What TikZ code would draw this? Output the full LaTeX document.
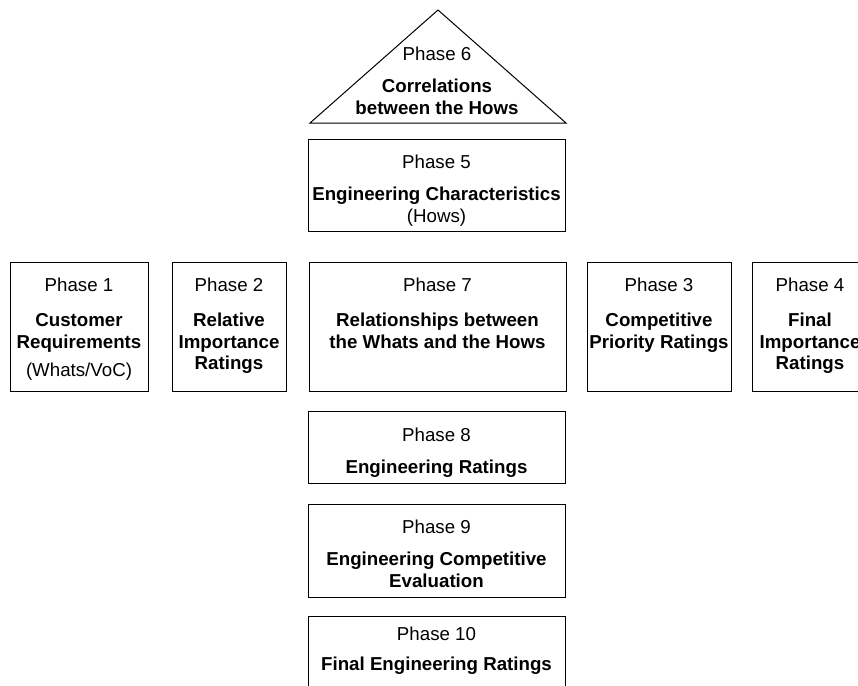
\documentclass[tikz,border=0pt]{standalone}
\usepackage{fontspec}
\setmainfont{Liberation Sans}
\begin{document}
\begin{tikzpicture}[x=1pt,y=-1pt,
  box/.style={draw=black, line width=1pt, inner sep=0pt, fill=none},
  lbl/.style={anchor=north, inner sep=0pt, align=center, font=\fontsize{18.7}{21.5}\selectfont}]
\clip (0,0) rectangle (858,685);
\fill[white] (0,0) rectangle (858,685);
% triangle (Phase 6)
\coordinate (apex) at (438,10);
\coordinate (tl) at (310,123);
\coordinate (tr) at (566,123);
\draw[line width=1pt, line join=miter] (tl) -- (apex) -- (tr) -- cycle;
% boxes
\node[box, minimum width=138pt, minimum height=129pt] (b1) at (79,326.5) {};
\node[box, minimum width=114pt, minimum height=129pt] (b2) at (229,326.5) {};
\node[box, minimum width=257pt, minimum height=129pt] (b7) at (437.5,326.5) {};
\node[box, minimum width=144pt, minimum height=129pt] (b3) at (659,326.5) {};
\node[box, minimum width=116pt, minimum height=129pt] (b4) at (810,326.5) {};
\node[box, minimum width=257pt, minimum height=92pt] (b5) at (436.5,185) {};
\node[box, minimum width=257pt, minimum height=72pt] (b8) at (436.5,447) {};
\node[box, minimum width=257pt, minimum height=93pt] (b9) at (436.5,550.5) {};
\node[box, minimum width=257pt, minimum height=104pt] (b10) at (436.5,668) {};
% labels
\node[lbl] (t6) at (437,47) {Phase 6\\[10.5pt]\textbf{Correlations}\\\textbf{between the Hows}};
\node[lbl] (t5) at (436.5,155) {Phase 5\\[10.5pt]\textbf{Engineering Characteristics}\\(Hows)};
\node[lbl] (t1) at (79,278) {Phase 1\\[13.5pt]\textbf{Customer}\\\textbf{Requirements}\\[6.5pt](Whats/VoC)};
\node[lbl] (t2) at (229,278) {Phase 2\\[13.5pt]\textbf{Relative}\\\textbf{Importance}\\\textbf{Ratings}};
\node[lbl] (t7) at (437.5,278) {Phase 7\\[13.5pt]\textbf{Relationships between}\\\textbf{the Whats and the Hows}};
\node[lbl] (t3) at (659,278) {Phase 3\\[13.5pt]\textbf{Competitive}\\\textbf{Priority Ratings}};
\node[lbl] (t4) at (810,278) {Phase 4\\[13.5pt]\textbf{Final}\\\textbf{Importance}\\\textbf{Ratings}};
\node[lbl] (t8) at (436.5,428) {Phase 8\\[10.5pt]\textbf{Engineering Ratings}};
\node[lbl] (t9) at (436.5,520) {Phase 9\\[10.5pt]\textbf{Engineering Competitive}\\\textbf{Evaluation}};
\node[lbl] (t10) at (436.5,627) {Phase 10\\[8.5pt]\textbf{Final Engineering Ratings}};
\end{tikzpicture}
\end{document}
